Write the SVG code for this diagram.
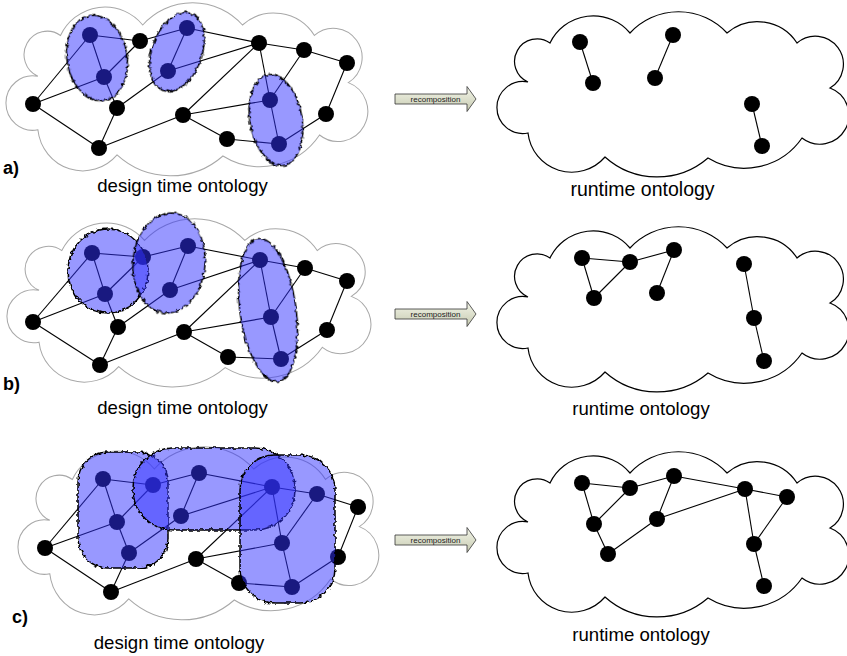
<svg xmlns="http://www.w3.org/2000/svg" xmlns:xlink="http://www.w3.org/1999/xlink" width="847" height="656" viewBox="0 0 847 656">
<style>
.lc{fill:none;stroke:#a8a8a8;stroke-width:1}
.rc{fill:none;stroke:#000;stroke-width:1.2}
.edges line{stroke:#000;stroke-width:1.1}
.n{fill:#000}
.blob{fill:#3333ff;fill-opacity:0.5;stroke:#000;stroke-width:1.5;filter:url(#wavy)}
.lbl{font-family:"Liberation Sans",Arial,sans-serif;font-weight:bold;font-size:18px;fill:#000}
.cap{font-family:"Liberation Sans",Arial,sans-serif;font-size:18.6px;fill:#000;text-anchor:middle}
.arr{fill:url(#ag);stroke:#333;stroke-width:0.8}
.at{font-family:"Liberation Sans",Arial,sans-serif;font-size:8px;fill:#222;text-anchor:middle}
</style>
<defs>
<path id="cloud" d="M528,82 A22.5,22.5 0 1 1 550,43 A48,48 0 0 1 630,33 A66,66 0 0 1 727,33 A47,47 0 0 1 797,43 A28,28 0 1 1 830,88 A29,29 0 1 1 802,138 A70,70 0 0 1 708,158 A78,78 0 0 1 605,157 A44,44 0 0 1 528,133 A26,26 0 1 1 528,82 Z"/>
<linearGradient id="ag" x1="0" y1="0" x2="0" y2="1">
<stop offset="0" stop-color="#f4f6ea"/>
<stop offset="1" stop-color="#c6cab0"/>
</linearGradient>
<polygon id="arrow" points="0,-5 72,-5 72,-12.5 81,0 72,12.5 72,5 0,5"/>
<filter id="wavy" x="-20%" y="-20%" width="140%" height="140%">
<feTurbulence type="fractalNoise" baseFrequency="0.3" numOctaves="1" seed="5" result="n"/>
<feDisplacementMap in="SourceGraphic" in2="n" scale="5" xChannelSelector="R" yChannelSelector="G"/>
</filter>
</defs>

<g id="clouds">
<use xlink:href="#cloud" class="lc" transform="translate(-504.9,-9.6) scale(1.028,1.048)"/>
<use xlink:href="#cloud" class="lc" transform="translate(-506.9,206.8) scale(1.034,1.018)"/>
<use xlink:href="#cloud" class="lc" transform="translate(-491.4,434.4) scale(1.025,1.048)"/>
<use xlink:href="#cloud" class="rc"/>
<use xlink:href="#cloud" class="rc" transform="translate(0,215)"/>
<use xlink:href="#cloud" class="rc" transform="translate(0,440)"/>
</g>

<g id="connectors" class="edges">
<line x1="90" y1="35" x2="104" y2="77"/>
<line x1="90" y1="35" x2="140" y2="41"/>
<line x1="90" y1="35" x2="33" y2="104"/>
<line x1="104" y1="77" x2="33" y2="104"/>
<line x1="104" y1="77" x2="140" y2="41"/>
<line x1="104" y1="77" x2="117" y2="108"/>
<line x1="140" y1="41" x2="187" y2="28"/>
<line x1="187" y1="28" x2="168" y2="71"/>
<line x1="187" y1="28" x2="259" y2="43"/>
<line x1="168" y1="71" x2="259" y2="43"/>
<line x1="168" y1="71" x2="117" y2="108"/>
<line x1="117" y1="108" x2="99" y2="148"/>
<line x1="33" y1="104" x2="99" y2="148"/>
<line x1="99" y1="148" x2="183" y2="115"/>
<line x1="183" y1="115" x2="259" y2="43"/>
<line x1="183" y1="115" x2="270" y2="100"/>
<line x1="183" y1="115" x2="227" y2="139"/>
<line x1="227" y1="139" x2="279" y2="144"/>
<line x1="270" y1="100" x2="279" y2="144"/>
<line x1="259" y1="43" x2="270" y2="100"/>
<line x1="259" y1="43" x2="304" y2="50"/>
<line x1="304" y1="50" x2="270" y2="100"/>
<line x1="304" y1="50" x2="347" y2="63"/>
<line x1="347" y1="63" x2="326" y2="114"/>
<line x1="326" y1="114" x2="279" y2="144"/>

<line x1="92" y1="253" x2="105" y2="294"/>
<line x1="92" y1="253" x2="143" y2="257"/>
<line x1="92" y1="253" x2="33" y2="322"/>
<line x1="105" y1="294" x2="33" y2="322"/>
<line x1="105" y1="294" x2="143" y2="257"/>
<line x1="105" y1="294" x2="118" y2="327"/>
<line x1="143" y1="257" x2="188" y2="246"/>
<line x1="188" y1="246" x2="170" y2="290"/>
<line x1="188" y1="246" x2="260" y2="260"/>
<line x1="170" y1="290" x2="260" y2="260"/>
<line x1="170" y1="290" x2="118" y2="327"/>
<line x1="118" y1="327" x2="100" y2="365"/>
<line x1="33" y1="322" x2="100" y2="365"/>
<line x1="100" y1="365" x2="184" y2="332"/>
<line x1="184" y1="332" x2="260" y2="260"/>
<line x1="184" y1="332" x2="271" y2="317"/>
<line x1="184" y1="332" x2="228" y2="357"/>
<line x1="228" y1="357" x2="281" y2="359"/>
<line x1="271" y1="317" x2="281" y2="359"/>
<line x1="260" y1="260" x2="271" y2="317"/>
<line x1="260" y1="260" x2="305" y2="268"/>
<line x1="305" y1="268" x2="271" y2="317"/>
<line x1="305" y1="268" x2="347" y2="281"/>
<line x1="347" y1="281" x2="327" y2="330"/>
<line x1="327" y1="330" x2="281" y2="359"/>

<line x1="103" y1="479" x2="117" y2="522"/>
<line x1="103" y1="479" x2="153" y2="485"/>
<line x1="103" y1="479" x2="45" y2="548"/>
<line x1="117" y1="522" x2="45" y2="548"/>
<line x1="117" y1="522" x2="153" y2="485"/>
<line x1="117" y1="522" x2="129" y2="553"/>
<line x1="153" y1="485" x2="199" y2="473"/>
<line x1="199" y1="473" x2="181" y2="516"/>
<line x1="199" y1="473" x2="272" y2="487"/>
<line x1="181" y1="516" x2="272" y2="487"/>
<line x1="181" y1="516" x2="129" y2="553"/>
<line x1="129" y1="553" x2="111" y2="592"/>
<line x1="45" y1="548" x2="111" y2="592"/>
<line x1="111" y1="592" x2="196" y2="559"/>
<line x1="196" y1="559" x2="272" y2="487"/>
<line x1="196" y1="559" x2="282" y2="543"/>
<line x1="196" y1="559" x2="239" y2="583"/>
<line x1="239" y1="583" x2="292" y2="587"/>
<line x1="282" y1="543" x2="292" y2="587"/>
<line x1="272" y1="487" x2="282" y2="543"/>
<line x1="272" y1="487" x2="317" y2="494"/>
<line x1="317" y1="494" x2="282" y2="543"/>
<line x1="317" y1="494" x2="358" y2="507"/>
<line x1="358" y1="507" x2="338" y2="557"/>
<line x1="338" y1="557" x2="292" y2="587"/>

<line x1="580" y1="42" x2="593" y2="83"/>
<line x1="673" y1="35" x2="655" y2="78"/>
<line x1="752" y1="104" x2="762" y2="146"/>

<line x1="582" y1="258" x2="630" y2="262"/>
<line x1="630" y1="262" x2="674" y2="250"/>
<line x1="582" y1="258" x2="594" y2="298"/>
<line x1="630" y1="262" x2="594" y2="298"/>
<line x1="674" y1="250" x2="657" y2="293"/>
<line x1="744" y1="264" x2="754" y2="318"/>
<line x1="754" y1="318" x2="764" y2="361"/>

<line x1="582" y1="483" x2="630" y2="488"/>
<line x1="630" y1="488" x2="674" y2="476"/>
<line x1="582" y1="483" x2="594" y2="524"/>
<line x1="630" y1="488" x2="594" y2="524"/>
<line x1="594" y1="524" x2="608" y2="554"/>
<line x1="608" y1="554" x2="657" y2="519"/>
<line x1="674" y1="476" x2="657" y2="519"/>
<line x1="657" y1="519" x2="745" y2="489"/>
<line x1="674" y1="476" x2="745" y2="489"/>
<line x1="745" y1="489" x2="787" y2="497"/>
<line x1="745" y1="489" x2="754" y2="544"/>
<line x1="787" y1="497" x2="754" y2="544"/>
<line x1="754" y1="544" x2="764" y2="586"/>
</g>

<g id="nodes-a">
<g id="a1"><circle class="n" cx="90" cy="35" r="8"/></g>
<g id="a2"><circle class="n" cx="104" cy="77" r="8"/></g>
<g id="a3"><circle class="n" cx="140" cy="41" r="8"/></g>
<g id="a4"><circle class="n" cx="187" cy="28" r="8"/></g>
<g id="a5"><circle class="n" cx="168" cy="71" r="8"/></g>
<g id="a6"><circle class="n" cx="259" cy="43" r="8"/></g>
<g id="a7"><circle class="n" cx="304" cy="50" r="8"/></g>
<g id="a8"><circle class="n" cx="347" cy="63" r="8"/></g>
<g id="a9"><circle class="n" cx="33" cy="104" r="8"/></g>
<g id="a10"><circle class="n" cx="117" cy="108" r="8"/></g>
<g id="a11"><circle class="n" cx="183" cy="115" r="8"/></g>
<g id="a12"><circle class="n" cx="270" cy="100" r="8"/></g>
<g id="a13"><circle class="n" cx="326" cy="114" r="8"/></g>
<g id="a14"><circle class="n" cx="227" cy="139" r="8"/></g>
<g id="a15"><circle class="n" cx="279" cy="144" r="8"/></g>
<g id="a16"><circle class="n" cx="99" cy="148" r="8"/></g>
</g>
<g id="nodes-b">
<g id="b1"><circle class="n" cx="92" cy="253" r="8"/></g>
<g id="b2"><circle class="n" cx="105" cy="294" r="8"/></g>
<g id="b3"><circle class="n" cx="143" cy="257" r="8"/></g>
<g id="b4"><circle class="n" cx="188" cy="246" r="8"/></g>
<g id="b5"><circle class="n" cx="170" cy="290" r="8"/></g>
<g id="b6"><circle class="n" cx="260" cy="260" r="8"/></g>
<g id="b7"><circle class="n" cx="305" cy="268" r="8"/></g>
<g id="b8"><circle class="n" cx="347" cy="281" r="8"/></g>
<g id="b9"><circle class="n" cx="33" cy="322" r="8"/></g>
<g id="b10"><circle class="n" cx="118" cy="327" r="8"/></g>
<g id="b11"><circle class="n" cx="184" cy="332" r="8"/></g>
<g id="b12"><circle class="n" cx="271" cy="317" r="8"/></g>
<g id="b13"><circle class="n" cx="327" cy="330" r="8"/></g>
<g id="b14"><circle class="n" cx="228" cy="357" r="8"/></g>
<g id="b15"><circle class="n" cx="281" cy="359" r="8"/></g>
<g id="b16"><circle class="n" cx="100" cy="365" r="8"/></g>
</g>
<g id="nodes-c">
<g id="c1"><circle class="n" cx="103" cy="479" r="8"/></g>
<g id="c2"><circle class="n" cx="117" cy="522" r="8"/></g>
<g id="c3"><circle class="n" cx="153" cy="485" r="8"/></g>
<g id="c4"><circle class="n" cx="199" cy="473" r="8"/></g>
<g id="c5"><circle class="n" cx="181" cy="516" r="8"/></g>
<g id="c6"><circle class="n" cx="272" cy="487" r="8"/></g>
<g id="c7"><circle class="n" cx="317" cy="494" r="8"/></g>
<g id="c8"><circle class="n" cx="358" cy="507" r="8"/></g>
<g id="c9"><circle class="n" cx="45" cy="548" r="8"/></g>
<g id="c10"><circle class="n" cx="129" cy="553" r="8"/></g>
<g id="c11"><circle class="n" cx="196" cy="559" r="8"/></g>
<g id="c12"><circle class="n" cx="282" cy="543" r="8"/></g>
<g id="c13"><circle class="n" cx="338" cy="557" r="8"/></g>
<g id="c14"><circle class="n" cx="239" cy="583" r="8"/></g>
<g id="c15"><circle class="n" cx="292" cy="587" r="8"/></g>
<g id="c16"><circle class="n" cx="111" cy="592" r="8"/></g>
</g>
<g id="nodes-ra">
<g id="ra1"><circle class="n" cx="580" cy="42" r="8"/></g>
<g id="ra2"><circle class="n" cx="593" cy="83" r="8"/></g>
<g id="ra3"><circle class="n" cx="673" cy="35" r="8"/></g>
<g id="ra4"><circle class="n" cx="655" cy="78" r="8"/></g>
<g id="ra5"><circle class="n" cx="752" cy="104" r="8"/></g>
<g id="ra6"><circle class="n" cx="762" cy="146" r="8"/></g>
</g>
<g id="nodes-rb">
<g id="rb1"><circle class="n" cx="582" cy="258" r="8"/></g>
<g id="rb2"><circle class="n" cx="630" cy="262" r="8"/></g>
<g id="rb3"><circle class="n" cx="674" cy="250" r="8"/></g>
<g id="rb4"><circle class="n" cx="594" cy="298" r="8"/></g>
<g id="rb5"><circle class="n" cx="657" cy="293" r="8"/></g>
<g id="rb6"><circle class="n" cx="744" cy="264" r="8"/></g>
<g id="rb7"><circle class="n" cx="754" cy="318" r="8"/></g>
<g id="rb8"><circle class="n" cx="764" cy="361" r="8"/></g>
</g>
<g id="nodes-rc">
<g id="rc1"><circle class="n" cx="582" cy="483" r="8"/></g>
<g id="rc2"><circle class="n" cx="630" cy="488" r="8"/></g>
<g id="rc3"><circle class="n" cx="674" cy="476" r="8"/></g>
<g id="rc4"><circle class="n" cx="594" cy="524" r="8"/></g>
<g id="rc5"><circle class="n" cx="657" cy="519" r="8"/></g>
<g id="rc6"><circle class="n" cx="608" cy="554" r="8"/></g>
<g id="rc7"><circle class="n" cx="745" cy="489" r="8"/></g>
<g id="rc8"><circle class="n" cx="787" cy="497" r="8"/></g>
<g id="rc9"><circle class="n" cx="754" cy="544" r="8"/></g>
<g id="rc10"><circle class="n" cx="764" cy="586" r="8"/></g>
</g>

<g id="modules-a">
<ellipse class="blob" cx="97" cy="58" rx="30" ry="43" transform="rotate(-10 97 58)"/>
<ellipse class="blob" cx="177" cy="52" rx="25" ry="41" transform="rotate(20 177 52)"/>
<ellipse class="blob" cx="276" cy="120" rx="26" ry="46" transform="rotate(-10 276 120)"/>
</g>
<g id="modules-b">
<ellipse class="blob" cx="108" cy="271" rx="40" ry="42"/>
<ellipse class="blob" cx="169" cy="263" rx="36" ry="50" transform="rotate(5 169 263)"/>
<ellipse class="blob" cx="268" cy="310" rx="28" ry="72" transform="rotate(-8 268 310)"/>
</g>
<g id="modules-c">
<rect class="blob" x="78" y="452" width="90" height="116" rx="30"/>
<rect class="blob" x="133" y="448" width="162" height="82" rx="40"/>
<rect class="blob" x="240" y="455" width="95" height="148" rx="35"/>
</g>

<g id="arrows">
<g id="arrow-a"><use xlink:href="#arrow" class="arr" x="395" y="99"/><text class="at" x="435.5" y="101.8">recomposition</text></g>
<g id="arrow-b"><use xlink:href="#arrow" class="arr" x="395" y="314"/><text class="at" x="435.5" y="316.8">recomposition</text></g>
<g id="arrow-c"><use xlink:href="#arrow" class="arr" x="395" y="540"/><text class="at" x="435.5" y="542.8">recomposition</text></g>
</g>

<g id="labels">
<text class="lbl" x="3" y="174">a)</text>
<text class="lbl" x="3" y="390">b)</text>
<text class="lbl" x="12" y="623">c)</text>
<text class="cap" x="182.5" y="192">design time ontology</text>
<text class="cap" x="182.5" y="414">design time ontology</text>
<text class="cap" x="179" y="649">design time ontology</text>
<text class="cap" x="642.5" y="196" style="font-size:19.5px">runtime ontology</text>
<text class="cap" x="641" y="414.5">runtime ontology</text>
<text class="cap" x="641" y="641">runtime ontology</text>
</g>
</svg>
